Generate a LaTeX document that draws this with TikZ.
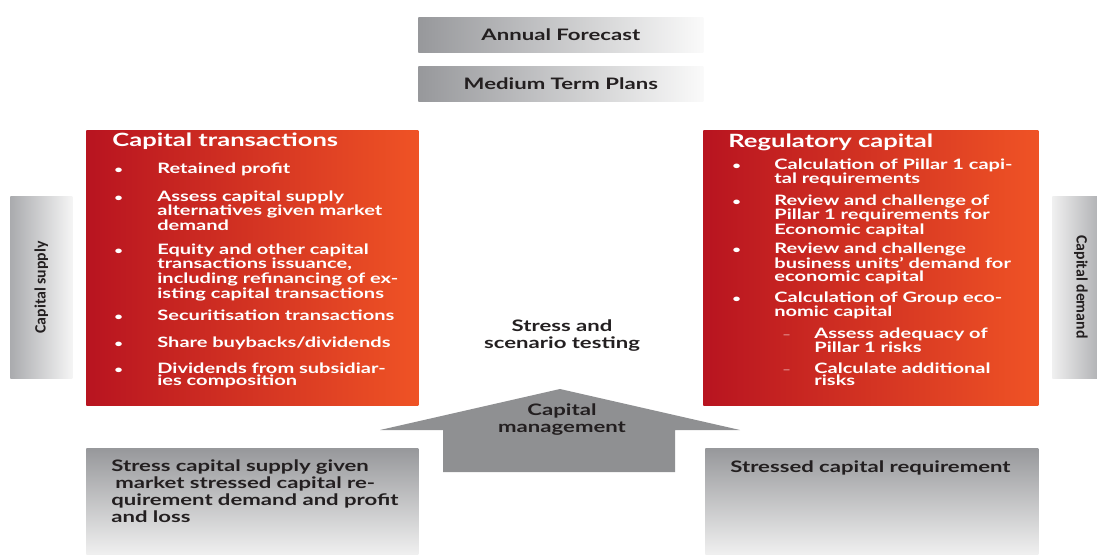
\documentclass[tikz,border=0pt]{standalone}
\usepackage{fontspec}
\setmainfont{Lato}[FakeStretch=1.4]
\newfontfamily\tabfont{Carlito}
\usetikzlibrary{positioning}
\definecolor{bankred}{RGB}{184,20,32}
\definecolor{bankorange}{RGB}{239,83,37}
\definecolor{boxgrey}{RGB}{151,152,155}
\definecolor{tabgrey}{RGB}{170,171,174}
\definecolor{arrowgrey}{RGB}{143,144,146}
\definecolor{inkdark}{RGB}{35,31,32}

\begin{document}
\begin{tikzpicture}[
    x=0.02cm, y=-0.02cm,
    redbox/.style={anchor=north west,inner sep=0pt,left color=bankred,right color=bankorange},
    planbox/.style={anchor=north west,inner sep=0pt,minimum width=5.7cm,minimum height=0.7cm,
               left color=boxgrey,right color=white!98!black,text=inkdark,
               font=\bfseries\fontsize{9}{10}\selectfont},
    lowbox/.style={anchor=north west,inner sep=0pt,minimum height=2.12cm,
               top color=boxgrey,bottom color=white!94!black},
    sidetab/.style={anchor=north west,inner sep=0pt,minimum height=3.64cm},
    boxtitle/.style={anchor=base west,inner sep=0pt,text=white,font=\bfseries\fontsize{10.4}{12}\selectfont},
    entry/.style={anchor=base west,inner sep=0pt,text=white,text width=6cm,align=left,
               font=\bfseries\fontsize{8.15}{7.2}\selectfont},
    dot/.style={anchor=base west,inner sep=0pt,text=white,font=\bfseries\fontsize{6}{7.2}\selectfont},
    darktext/.style={inner sep=0pt,text=inkdark,text width=6cm,
               font=\bfseries\fontsize{9}{9.8}\selectfont}
  ]
    \useasboundingbox (0,0) rectangle (1097,554);

    %% planning boxes on top
    \node[planbox] (forecast) at (418,17) {Annual Forecast};
    \node[planbox] (plans) at (418,66) {Medium Term Plans};

    %% supply and demand boxes
    \node[redbox,minimum width=6.64cm,minimum height=5.5cm] (trans) at (86,130) {};
    \node[redbox,minimum width=6.7cm,minimum height=5.5cm] (reg) at (703,130) {};

    \node[sidetab,minimum width=1.24cm,left color=tabgrey,right color=white!96!black] (supply) at (10,196) {};
    \node[sidetab,minimum width=0.9cm,left color=white!94!black,right color=tabgrey!90!white] (demand) at (1052,196) {};
    \node[rotate=90,text=inkdark,font=\tabfont\bfseries\fontsize{9}{11}\selectfont] (supplytxt) at (supply.center) {Capital supply};
    \node[rotate=-90,text=inkdark,font=\tabfont\bfseries\fontsize{9}{11}\selectfont] (demandtxt) at (1081,287) {Capital demand};

    %% capital transactions
    \node[boxtitle] (transtitle) at (112,146) {Capital transactions};
    \foreach \y/\txt [count=\i] in {173/{Retained profit},
        201/{Assess capital supply\\alternatives given market\\demand},
        254/{Equity and other capital\\transactions issuance,\\including refinancing of ex-\\isting capital transactions},
        320/{Securitisation transactions},
        347/{Share buybacks/dividends},
        373/{Dividends from subsidiar-\\ies composition}} {
      \node[dot] (tb\i) at (114,\y) {\textbullet};
      \node[entry] (ti\i) at (157,\y) {\txt};
    }

    %% regulatory capital
    \node[boxtitle] (regtitle) at (728,147) {Regulatory capital};
    \foreach \y/\txt [count=\i] in {169/{Calculation of Pillar 1 capi-\\tal requirements},
        205/{Review and challenge of\\Pillar 1 requirements for\\Economic capital},
        253/{Review and challenge\\business units’ demand for\\economic capital},
        302/{Calculation of Group eco-\\nomic capital}} {
      \node[dot] (rb\i) at (732,\y) {\textbullet};
      \node[entry] (ri\i) at (774,\y) {\txt};
    }
    \foreach \y/\txt [count=\i] in {338/{Assess adequacy of\\Pillar 1 risks},
        373/{Calculate additional\\risks}} {
      \node[dot,opacity=0.55] (rd\i) at (782,\y) {–};
      \node[entry] (rs\i) at (814,\y) {\txt};
    }

    %% capital management arrow
    \fill[arrowgrey] (560,389) -- (740,430) -- (675,430) -- (675,472)
      -- (443,472) -- (443,430) -- (380,430) -- cycle;
    \node[darktext,text width=4cm,align=center,anchor=base] (stress) at (562,331) {Stress and\\scenario testing};
    \node[darktext,text width=4cm,align=center,anchor=base] (manage) at (562,415) {Capital\\management};

    %% stressed boxes
    \node[lowbox,minimum width=6.64cm] (stressL) at (86,448) {};
    \node[lowbox,minimum width=6.66cm] (stressR) at (705,448) {};
    \node[darktext,align=left,anchor=base west] (stressLtxt) at (111,471)
      {Stress capital supply given\\\hspace{0.25em}market stressed capital re-\\quirement demand and profit\\and loss};
    \node[darktext,align=left,anchor=base west] (stressRtxt) at (730,472) {Stressed capital requirement};
\end{tikzpicture}
\end{document}
